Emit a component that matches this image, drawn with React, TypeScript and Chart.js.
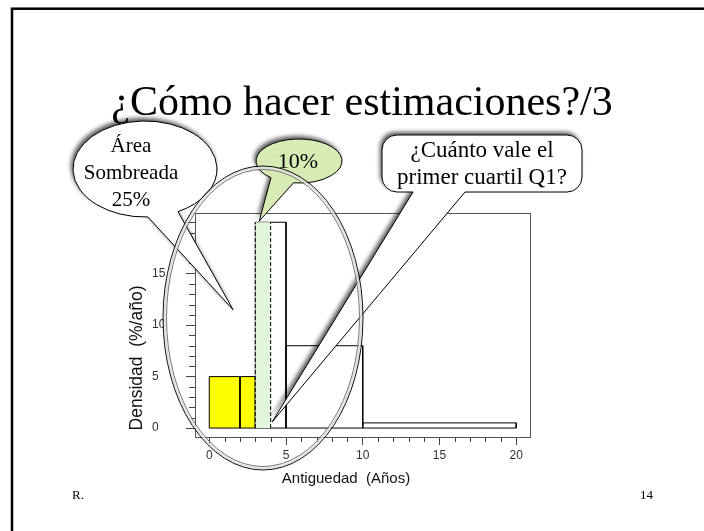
import React, { useEffect, useRef } from "react";
import { Chart, registerables } from "chart.js";

Chart.register(...registerables);

// ---------------- data ----------------
const binEdges = [0, 2, 3, 5, 10, 20];
const binDensities = [5, 5, 20, 8, 0.5];
const binShaded = [true, true, false, false, false];
const q1Band = [3, 4];
const q1BandHeight = 20;

const xMajorTicks = [0, 5, 10, 15, 20];
const xTickLabels = ["0", "5", "10", "15", "20"];
const xMinorTicks = [1, 2, 3, 4, 6, 7, 8, 9, 11, 12, 13, 14, 16, 17, 18, 19];
const yMajorTicks = [0, 5, 10, 15, 20];
const yTickLabels = ["0", "5", "10", "15", ""];
const yMinorTicks = [1, 2, 3, 4, 6, 7, 8, 9, 11, 12, 13, 14, 16, 17, 18, 19];
const xRange = [-0.93, 20.9];
const yRange = [-0.87, 20.9];

const slideTitle = "¿Cómo hacer estimaciones?/3";
const xTitle = "Antiguedad  (Años)";
const yTitle = "Densidad  (%/año)";
const leftBubbleLines = ["Área", "Sombreada", "25%"];
const greenBubbleText = "10%";
const rectBubbleLines = ["¿Cuánto vale el", "primer cuartil Q1?"];
const footerLeft = "R.";
const footerRight = "14";

// pointer tips expressed in data coordinates
const leftTip = [1.55, 11.5];
const greenTip = [3.25, 20.1];
const rectTip = [4.1, 0.6];

const SERIF = '"Liberation Serif", "Times New Roman", serif';
const SANS = '"Liberation Sans", Arial, sans-serif';

function ellipseCallout(
  ctx: CanvasRenderingContext2D,
  cx: number, cy: number, rx: number, ry: number,
  tA: number, tB: number, tip: { x: number; y: number }
) {
  ctx.beginPath();
  ctx.moveTo(tip.x, tip.y);
  ctx.lineTo(cx + rx * Math.cos(tA), cy + ry * Math.sin(tA));
  ctx.ellipse(cx, cy, rx, ry, 0, tA, tB + 2 * Math.PI);
  ctx.closePath();
}

function rectCallout(
  ctx: CanvasRenderingContext2D,
  x0: number, y0: number, x1: number, y1: number, r: number,
  baseL: number, baseR: number, tip: { x: number; y: number }
) {
  ctx.beginPath();
  ctx.moveTo(x0 + r, y0);
  ctx.lineTo(x1 - r, y0);
  ctx.arcTo(x1, y0, x1, y0 + r, r);
  ctx.lineTo(x1, y1 - r);
  ctx.arcTo(x1, y1, x1 - r, y1, r);
  ctx.lineTo(baseR, y1);
  ctx.lineTo(tip.x, tip.y);
  ctx.lineTo(baseL, y1);
  ctx.lineTo(x0 + r, y1);
  ctx.arcTo(x0, y1, x0, y1 - r, r);
  ctx.lineTo(x0, y0 + r);
  ctx.arcTo(x0, y0, x0 + r, y0, r);
  ctx.closePath();
}

function paintCallout(ctx: CanvasRenderingContext2D, fill: string) {
  ctx.save();
  ctx.shadowColor = "rgba(0,0,0,0.65)";
  ctx.shadowBlur = 4;
  ctx.shadowOffsetX = -2;
  ctx.shadowOffsetY = -3;
  ctx.fillStyle = fill;
  ctx.fill();
  ctx.restore();
  ctx.save();
  ctx.strokeStyle = "#000";
  ctx.lineWidth = 1;
  ctx.stroke();
  ctx.restore();
}

const decorPlugin = {
  id: "decor",
  beforeDraw(chart: any) {
    const ctx = chart.ctx;
    ctx.save();
    ctx.fillStyle = "#fff";
    ctx.fillRect(0, 0, chart.width, chart.height);
    ctx.restore();
  },
  afterDatasetsDraw(chart: any) {
    const ctx: CanvasRenderingContext2D = chart.ctx;
    const ca = chart.chartArea;
    const xs = chart.scales.x;
    const ys = chart.scales.y;
    ctx.save();
    // plot box
    ctx.strokeStyle = "#555";
    ctx.lineWidth = 1;
    ctx.strokeRect(Math.round(ca.left) + 0.5, Math.round(ca.top) + 0.5,
      Math.round(ca.right - ca.left), Math.round(ca.bottom - ca.top));
    // minor ticks
    ctx.strokeStyle = "#444";
    ctx.beginPath();
    for (const v of yMinorTicks) {
      const py = Math.round(ys.getPixelForValue(v)) + 0.5;
      ctx.moveTo(ca.left - 6, py);
      ctx.lineTo(ca.left, py);
    }
    for (const v of xMinorTicks) {
      const px = Math.round(xs.getPixelForValue(v)) + 0.5;
      ctx.moveTo(px, ca.bottom);
      ctx.lineTo(px, ca.bottom + 5);
    }
    ctx.stroke();
    // axis titles
    ctx.fillStyle = "#111";
    ctx.font = `15px ${SANS}`;
    ctx.textAlign = "center";
    ctx.textBaseline = "middle";
    ctx.fillText(xTitle, 346, 479);
    ctx.save();
    ctx.translate(137, 358);
    ctx.rotate(-Math.PI / 2);
    ctx.font = `17.5px ${SANS}`;
    ctx.fillText(yTitle, 0, 0);
    ctx.restore();
    ctx.restore();
  },
  afterDraw(chart: any) {
    const ctx: CanvasRenderingContext2D = chart.ctx;
    const xs = chart.scales.x;
    const ys = chart.scales.y;
    const P = (d: number[]) => ({ x: xs.getPixelForValue(d[0]), y: ys.getPixelForValue(d[1]) });

    ctx.save();
    // slide frame
    ctx.strokeStyle = "#000";
    ctx.lineWidth = 2.5;
    ctx.strokeRect(12, 8.7, 900, 900);

    // title
    ctx.fillStyle = "#000";
    ctx.font = `42px ${SERIF}`;
    ctx.textAlign = "center";
    ctx.textBaseline = "alphabetic";
    ctx.fillText(slideTitle, 362, 115);

    // footers
    ctx.font = `13px ${SERIF}`;
    ctx.textAlign = "left";
    ctx.fillText(footerLeft, 72, 499);
    ctx.fillText(footerRight, 640, 499);

    // left callout
    ellipseCallout(ctx, 145, 169, 72, 48, 1.53, 1.095, P(leftTip));
    paintCallout(ctx, "#fff");
    ctx.fillStyle = "#000";
    ctx.font = `21px ${SERIF}`;
    ctx.textAlign = "center";
    leftBubbleLines.forEach((t, i) => ctx.fillText(t, 131, 152 + i * 27));

    // green callout
    ellipseCallout(ctx, 299, 161, 43, 22, 2.28, 1.70, P(greenTip));
    paintCallout(ctx, "#d7ebb4");
    ctx.fillStyle = "#000";
    ctx.font = `22px ${SERIF}`;
    ctx.fillText(greenBubbleText, 298, 168);

    // rect callout
    rectCallout(ctx, 382, 135, 582, 192, 15, 413, 465, P(rectTip));
    paintCallout(ctx, "#fff");
    ctx.fillStyle = "#000";
    ctx.font = `23px ${SERIF}`;
    rectBubbleLines.forEach((t, i) => ctx.fillText(t, 482, 157 + i * 27));

    // big ring
    ctx.lineWidth = 2;
    ctx.strokeStyle = "#e2e2e2";
    ctx.beginPath();
    ctx.ellipse(263, 318, 98.3, 150.3, 0, 0, Math.PI * 2);
    ctx.stroke();
    ctx.lineWidth = 1;
    ctx.strokeStyle = "#111";
    ctx.beginPath();
    ctx.ellipse(263, 318, 100, 152, 0, 0, Math.PI * 2);
    ctx.stroke();
    ctx.strokeStyle = "#777";
    ctx.beginPath();
    ctx.ellipse(263, 318, 96.5, 148.5, 0, 0, Math.PI * 2);
    ctx.stroke();
    ctx.restore();
  },
};

export default function App() {
  const ref = useRef<HTMLCanvasElement>(null);
  useEffect(() => {
    const barSets = binDensities.map((h, i) => ({
      type: "line",
      data: [
        { x: binEdges[i], y: 0 },
        { x: binEdges[i], y: h },
        { x: binEdges[i + 1], y: h },
        { x: binEdges[i + 1], y: 0 },
        { x: binEdges[i], y: 0 },
      ],
      borderColor: "#000",
      borderWidth: 1,
      backgroundColor: binShaded[i] ? "#ffff00" : "rgba(0,0,0,0)",
      fill: binShaded[i] ? "shape" : false,
      pointRadius: 0,
      tension: 0,
      order: 3,
    }));
    const bandFill = {
      type: "line",
      data: [
        { x: q1Band[0], y: 0 },
        { x: q1Band[0], y: q1BandHeight },
        { x: q1Band[1], y: q1BandHeight },
        { x: q1Band[1], y: 0 },
      ],
      borderWidth: 0,
      borderColor: "rgba(0,0,0,0)",
      backgroundColor: "#e2f6dc",
      fill: "shape",
      pointRadius: 0,
      order: 2,
    };
    const bandLines = q1Band.map((v) => ({
      type: "line",
      data: [
        { x: v, y: 0 },
        { x: v, y: q1BandHeight },
      ],
      borderColor: "#000",
      borderWidth: 1,
      borderDash: [4, 2],
      fill: false,
      pointRadius: 0,
      order: 1,
    }));

    const chart = new Chart(ref.current as HTMLCanvasElement, {
      type: "line",
      data: { datasets: [...bandLines, bandFill, ...barSets] as any },
      options: {
        animation: false,
        responsive: false,
        devicePixelRatio: 1,
        layout: { padding: { left: 152, top: 213, right: 174, bottom: 54 } },
        plugins: { legend: { display: false }, tooltip: { enabled: false } },
        scales: {
          x: {
            type: "linear",
            min: xRange[0],
            max: xRange[1],
            afterBuildTicks: (s: any) => {
              s.ticks = xMajorTicks.map((v) => ({ value: v }));
            },
            afterFit: (s: any) => {
              s.height = 40;
            },
            ticks: {
              autoSkip: false,
              maxRotation: 0,
              padding: 3,
              color: "#333",
              font: { family: "Liberation Sans", size: 12 },
              callback: (v: any) => xTickLabels[xMajorTicks.indexOf(Number(v))],
            },
            grid: { drawOnChartArea: false, drawTicks: true, tickLength: 8, tickColor: "#444" },
            border: { display: false },
          },
          y: {
            type: "linear",
            min: yRange[0],
            max: yRange[1],
            afterBuildTicks: (s: any) => {
              s.ticks = yMajorTicks.map((v) => ({ value: v }));
            },
            afterFit: (s: any) => {
              s.width = 43;
            },
            ticks: {
              autoSkip: false,
              crossAlign: "far",
              padding: 20,
              color: "#333",
              font: { family: "Liberation Sans", size: 12 },
              callback: (v: any) => yTickLabels[yMajorTicks.indexOf(Number(v))],
            },
            grid: { drawOnChartArea: false, drawTicks: true, tickLength: 9, tickColor: "#444" },
            border: { display: false },
          },
        },
      } as any,
      plugins: [decorPlugin as any],
    });
    return () => chart.destroy();
  }, []);

  return (
    <div style={{ position: "absolute", left: 0, top: 0, width: 704, height: 531 }}>
      <canvas ref={ref} width={704} height={531} style={{ display: "block", width: 704, height: 531 }} />
    </div>
  );
}
